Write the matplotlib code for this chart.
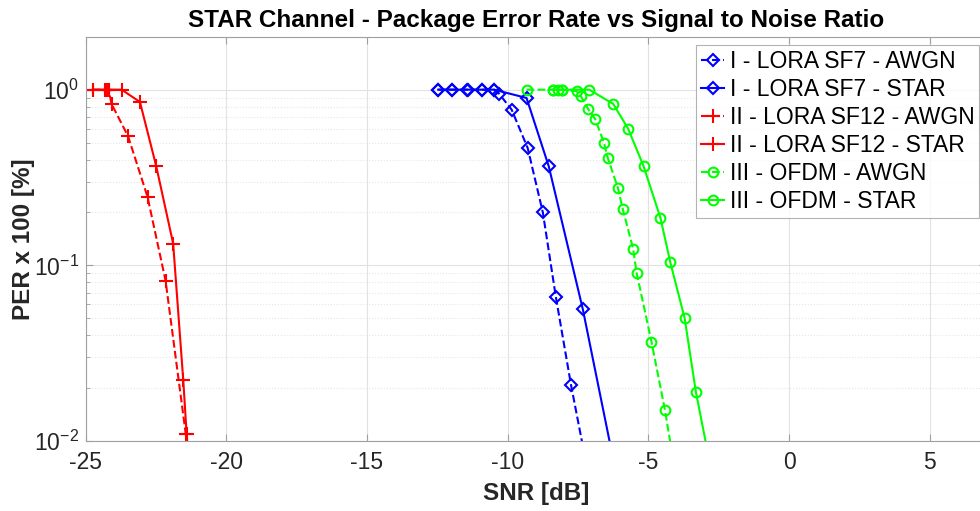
import matplotlib
matplotlib.use("Agg")
import matplotlib.pyplot as plt
from matplotlib.ticker import LogLocator, NullFormatter

# SNR [dB] and PER values
snr_sf7_awgn = [-12.47, -11.99, -11.46, -10.91, -10.48, -10.31, -9.86, -9.29, -8.75, -8.29, -7.75, -7.0]
per_sf7_awgn = [1.0, 1.0, 1.0, 1.0, 1.0, 0.95, 0.77, 0.466, 0.20, 0.0664, 0.0209, 0.005]

snr_sf7_star = [-12.47, -11.99, -11.40, -10.91, -10.48, -9.33, -8.54, -7.33, -6.0]
per_sf7_star = [1.0, 1.0, 1.0, 1.0, 1.0, 0.897, 0.366, 0.0563, 0.005]

snr_sf12_awgn = [-24.75, -24.31, -24.18, -24.08, -23.49, -22.80, -22.16, -21.44, -21.2]
per_sf12_awgn = [1.0, 1.0, 1.0, 0.83, 0.542, 0.245, 0.0819, 0.0109, 0.004]

snr_sf12_star = [-24.75, -24.31, -24.23, -24.16, -23.72, -23.07, -22.49, -21.89, -21.53, -21.41, -21.25]
per_sf12_star = [1.0, 1.0, 1.0, 1.0, 1.0, 0.851, 0.366, 0.133, 0.0221, 0.0109, 0.005]

snr_ofdm_awgn = [-9.33, -8.40, -8.20, -8.08, -7.55, -7.40, -7.14, -6.89, -6.58, -6.44,
                 -6.08, -5.91, -5.54, -5.42, -4.89, -4.41, -4.0]
per_ofdm_awgn = [1.0, 1.0, 1.0, 1.0, 0.98, 0.92, 0.776, 0.68, 0.50, 0.408,
                 0.275, 0.209, 0.124, 0.091, 0.0368, 0.015, 0.006]

snr_ofdm_star = [-8.40, -8.08, -7.10, -6.25, -5.72, -5.17, -4.57, -4.22, -3.71, -3.31, -2.6]
per_ofdm_star = [1.0, 1.0, 1.0, 0.83, 0.60, 0.367, 0.186, 0.104, 0.05, 0.019, 0.005]

xticks = [-25, -20, -15, -10, -5, 0, 5]

plt.rcParams['font.family'] = ['Liberation Sans', 'DejaVu Sans']
plt.rcParams['mathtext.default'] = 'regular'
plt.rcParams['axes.unicode_minus'] = False

fig = plt.figure(figsize=(9.8, 5.11), dpi=100)
# the right edge of the axes sits just outside the picture, as in the reference
ax = fig.add_axes([0.0874, 0.137, 0.9187, 0.791])

ax.semilogy(snr_sf7_awgn, per_sf7_awgn, '--D', color='b', lw=1.5, ms=6.5, mfc='none', mew=1.5,
            label='I - LORA SF7 - AWGN')
ax.semilogy(snr_sf7_star, per_sf7_star, '-D', color='b', lw=1.5, ms=6.5, mfc='none', mew=1.5,
            label='I - LORA SF7 - STAR')
ax.semilogy(snr_sf12_awgn, per_sf12_awgn, '--+', color='r', lw=1.5, ms=10, mew=1.5,
            label='II - LORA SF12 - AWGN')
ax.semilogy(snr_sf12_star, per_sf12_star, '-+', color='r', lw=1.5, ms=10, mew=1.5,
            label='II - LORA SF12 - STAR')
ax.semilogy(snr_ofdm_awgn, per_ofdm_awgn, '--o', color=(0, 1, 0), lw=1.5, ms=7, mfc='none', mew=1.5,
            label='III - OFDM - AWGN')
ax.semilogy(snr_ofdm_star, per_ofdm_star, '-o', color=(0, 1, 0), lw=1.5, ms=7, mfc='none', mew=1.5,
            label='III - OFDM - STAR')

ax.set_xlim(-25, 7)
ax.set_ylim(0.01, 2)
ax.set_xticks(xticks)
ax.yaxis.set_major_locator(LogLocator(base=10, numticks=5))
ax.yaxis.set_minor_locator(LogLocator(base=10, subs=range(2, 10), numticks=20))
ax.yaxis.set_minor_formatter(NullFormatter())

ax.grid(True, which='major', color='#e2e2e2', lw=0.8, ls='-')
ax.grid(True, which='minor', axis='y', color='#e6e6e6', lw=0.8, ls=':')
ax.set_axisbelow(True)

for s in ax.spines.values():
    s.set_color('#a0a0a0')
ax.tick_params(which='both', direction='in', colors='#a0a0a0', labelcolor='#262626',
               labelsize=16.5, top=True, right=True)
ax.tick_params(which='major', length=5)
ax.tick_params(which='minor', length=3)
ax.tick_params(axis='x', pad=7)
ax.tick_params(axis='y', pad=5)

ax.set_xlabel('SNR [dB]', fontsize=17.5, fontweight='bold', color='#262626', labelpad=6)
ax.set_ylabel('PER x 100 [%]', fontsize=17.5, fontweight='bold', color='#262626', labelpad=-1)
ax.set_title('STAR Channel - Package Error Rate vs Signal to Noise Ratio',
             fontsize=17.5, fontweight='bold', color='black', pad=7)

leg = ax.legend(loc='upper left', bbox_to_anchor=(696 / 980, 1 - 45 / 511),
                bbox_transform=fig.transFigure, fontsize=16.5, frameon=True, fancybox=False,
                handlelength=1.0, handletextpad=0.25, labelspacing=0.22, borderpad=0.22,
                borderaxespad=0)
leg.get_frame().set_edgecolor('#a0a0a0')
leg.get_frame().set_linewidth(0.8)

fig.savefig('out.png', dpi=100)
